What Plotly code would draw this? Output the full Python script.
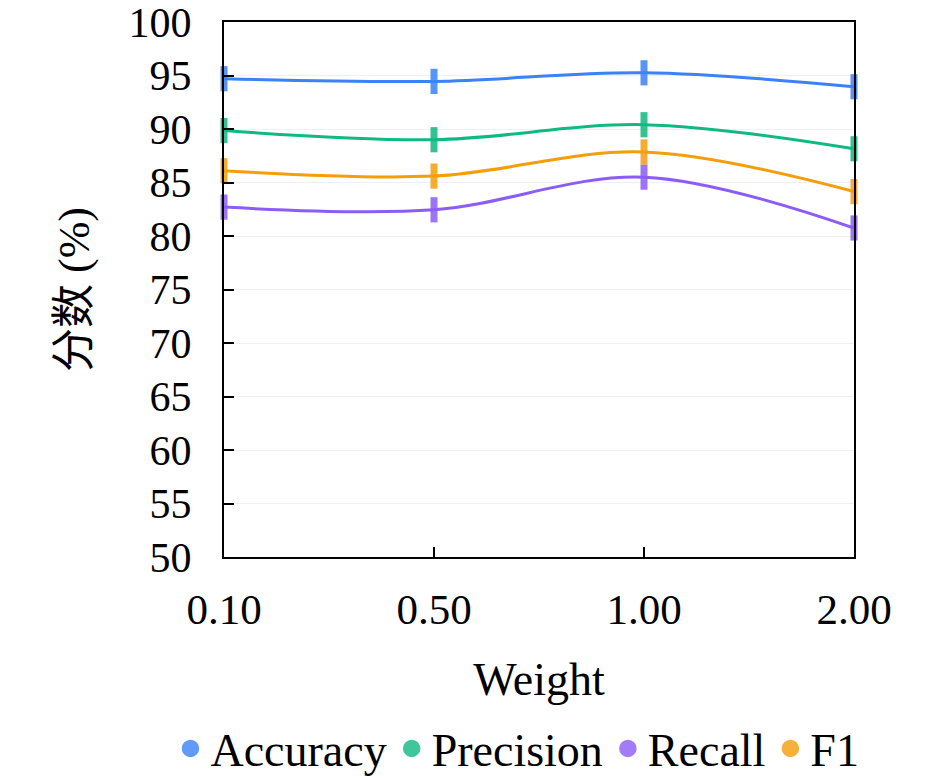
import plotly.graph_objects as go

weights = ["0.10", "0.50", "1.00", "2.00"]
accuracy = [94.7, 94.45, 95.25, 93.95]
precision = [89.85, 89.0, 90.4, 88.15]
recall = [82.7, 82.45, 85.5, 80.75]
f1 = [86.1, 85.6, 87.85, 84.15]

series = [
    ("Accuracy", accuracy, "#3b82f6"),
    ("Precision", precision, "#10b981"),
    ("Recall", recall, "#8b5cf6"),
    ("F1", f1, "#f59e0b"),
]

FONT = "Liberation Serif, 'Noto Sans CJK SC', serif"

fig = go.Figure()
for name, vals, color in series:
    fig.add_trace(go.Scatter(
        x=weights, y=vals, mode="lines", name=name, showlegend=False,
        line=dict(color=color, width=3, shape="spline", smoothing=1),
        cliponaxis=False, hoverinfo="skip",
    ))
for name, vals, color in series:
    fig.add_trace(go.Scatter(
        x=weights, y=vals, mode="markers", name=name, showlegend=False,
        marker=dict(symbol="line-ns", size=18, color=color, opacity=0.85,
                    line=dict(color=color, width=7)),
        cliponaxis=False,
    ))
for name, vals, color in series:
    fig.add_trace(go.Scatter(
        x=[None], y=[None], mode="markers", name=name, showlegend=True,
        marker=dict(symbol="circle", size=16, color=color, opacity=0.8,
                    line=dict(color=color, width=1.5)),
    ))

fig.update_layout(
    width=945, height=778,
    margin=dict(l=224, r=91, t=22, b=221, autoexpand=False),
    paper_bgcolor="white", plot_bgcolor="white",
    font=dict(family=FONT, size=42, color="black"),
    showlegend=True,
    legend=dict(orientation="h", xref="paper", yref="paper",
                x=-0.085, xanchor="left", y=-0.358, yanchor="middle",
                font=dict(size=46), itemsizing="trace", traceorder="normal",
                bgcolor="rgba(0,0,0,0)"),
    xaxis=dict(
        type="category", range=[0, 3], categoryorder="array", categoryarray=weights,
        showline=True, linecolor="black", linewidth=2, mirror=True,
        ticks="inside", ticklen=10, tickwidth=2, tickcolor="black",
        showgrid=False, zeroline=False, ticklabelstandoff=13,
        ticklabeloverflow="allow",
        title=dict(text="Weight", standoff=31, font=dict(size=46)),
        tickfont=dict(size=43),
    ),
    yaxis=dict(
        range=[50, 100], dtick=5, tick0=50,
        showline=True, linecolor="black", linewidth=2, mirror=True,
        ticks="inside", ticklen=10, tickwidth=2, tickcolor="black",
        showgrid=True, gridcolor="#eef0f3", gridwidth=1, zeroline=False,
        ticklabelstandoff=22, ticklabeloverflow="allow",
        title=dict(text="分数 (%)", standoff=25, font=dict(size=44)),
        tickfont=dict(size=42),
    ),
)

fig.write_html("out.html", config={"displayModeBar": False},
               post_script="document.body.style.margin='0px';")
